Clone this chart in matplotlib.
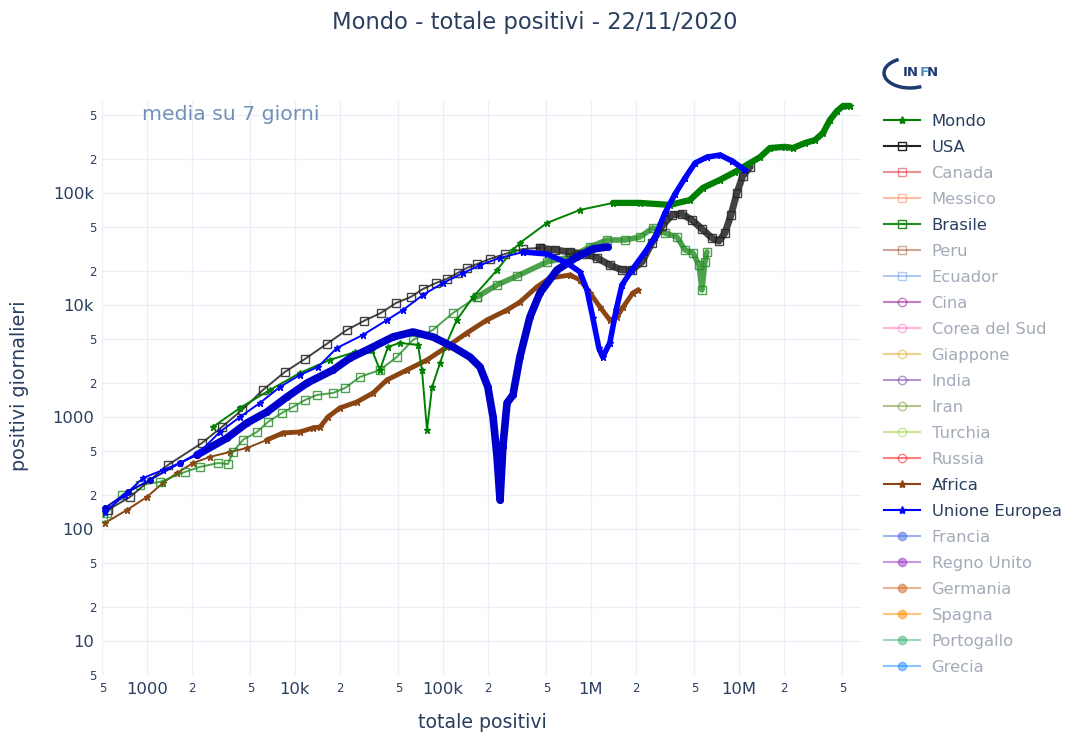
import matplotlib
matplotlib.use("Agg")
import matplotlib.pyplot as plt
from matplotlib.lines import Line2D
from matplotlib.patches import Arc

# ---- data: (totale positivi, positivi giornalieri 7-day mean) ----
mondo_x = [2790, 4250, 6770, 10800, 17200, 25400, 33100, 37500, 42500, 51100, 67800, 72100,
           78000, 84400, 95600, 106000, 124000, 160000, 232000, 297000, 331000, 504000, 843000,
           1.41e6, 2.14e6, 3.42e6, 4.67e6, 5.71e6, 7.45e6, 9.4e6, 11.3e6, 13.9e6, 16.2e6, 20.5e6,
           23.2e6, 27.9e6, 32.7e6, 37e6, 41.2e6, 46e6, 50.5e6, 56.2e6]
mondo_y = [815, 1203, 1742, 2470, 3230, 3800, 3960, 2630, 4220, 4580, 4400, 2630,
           765, 1850, 3030, 4580, 7340, 11800, 20500, 31000, 35800, 54000, 70500,
           81500, 81500, 78200, 86600, 111000, 131000, 154000, 178000, 209000, 252000, 258000,
           252000, 279000, 297000, 344000, 449000, 540000, 598000, 598000]

usa_x = [545, 768, 1387, 2355, 3213, 4385, 6080, 8550, 11700, 16400, 22400, 29200, 38100,
         48100, 60800, 73300, 89700, 106000, 126000, 145000, 170000, 208000, 262000, 348000,
         452000, 571000, 722000, 910000, 1.10e6, 1.34e6, 1.62e6, 1.89e6, 2.21e6, 2.58e6, 3.02e6,
         3.53e6, 4.12e6, 4.81e6, 5.62e6, 6.57e6, 7.33e6, 8.04e6, 8.83e6, 9.69e6, 10.6e6, 11.9e6]
usa_y = [148, 193, 373, 586, 815, 1155, 1742, 2523, 3300, 4490, 5980, 7200, 8490,
         10400, 11800, 13900, 15700, 17100, 19300, 21400, 23200, 25800, 28500, 31600,
         32300, 31000, 29700, 28500, 26300, 22700, 20500, 20500, 24200, 35800, 50700,
         63700, 64900, 57400, 47700, 39600, 37200, 43900, 63700, 100000, 142000, 171000]

brasile_x = [505, 537, 678, 897, 1224, 1806, 2279, 3020, 3530, 3810, 4450, 5540, 6570, 8170,
             9690, 11700, 14100, 18100, 21800, 27500, 37500, 48800, 62700, 85500, 117000,
             170000, 232000, 316000, 504000, 722000, 985000, 1.28e6, 1.70e6, 2.14e6, 2.62e6,
             3.16e6, 3.81e6, 4.32e6, 4.89e6, 5.37e6, 5.62e6, 5.89e6, 6.08e6]
brasile_y = [128, 139, 201, 247, 263, 323, 358, 388, 380, 487, 624, 735, 902, 1086,
             1228, 1418, 1572, 1638, 1815, 2276, 2630, 3432, 4870, 5980, 8490,
             11800, 15100, 18100, 24200, 26800, 33000, 38000, 38000, 40400, 48700,
             43900, 40400, 31000, 29100, 22700, 13600, 24200, 29700]

africa_x = [520, 733, 1000, 1283, 1595, 2047, 2665, 3640, 4740, 6470, 8300, 10800, 13200,
            14800, 16700, 20100, 26200, 33700, 41800, 57200, 78000, 106000, 145000, 198000,
            271000, 331000, 431000, 528000, 722000, 843000, 985000, 1.15e6, 1.34e6, 1.50e6,
            1.65e6, 1.92e6, 2.08e6]
africa_y = [113, 148, 193, 258, 316, 388, 440, 487, 528, 624, 720, 735, 798,
            815, 1000, 1203, 1361, 1638, 2140, 2630, 3230, 4220, 5620, 7340,
            9020, 10600, 14500, 17400, 18500, 16700, 12800, 9600, 7340, 7820,
            9600, 12800, 13600]

ue_x = [520, 710, 940, 1283, 1670, 2279, 3110, 4250, 5800, 7920, 10800, 14300, 19200, 28800,
        41800, 53700, 73300, 100000, 137000, 178000, 243000, 348000, 504000, 689000, 843000,
        940000, 1.03e6, 1.13e6, 1.20e6, 1.34e6, 1.48e6, 1.62e6, 1.89e6, 2.32e6, 2.71e6, 3.16e6,
        3.70e6, 4.32e6, 5.05e6, 6.08e6, 7.45e6, 8.98e6, 11.0e6]
ue_y = [142, 201, 285, 336, 388, 487, 735, 1000, 1334, 1855, 2371, 2794, 4130, 5400,
        7340, 9020, 12300, 15700, 19300, 22700, 26300, 29700, 28500, 23700, 19700,
        13600, 7650, 4130, 3430, 4580, 9020, 15100, 20500, 29700, 40400, 66200,
        97900, 136000, 185000, 209000, 218000, 193000, 160000]

italia_x = [520, 745, 1048, 1670, 2177, 3475, 4740, 6470, 8830, 12100, 18100, 23600, 30600,
            45900, 62700, 85500, 117000, 152000, 178000, 201000, 218000, 232000, 243000, 254000,
            271000, 297000, 331000, 387000, 452000, 589000, 804000, 1.03e6, 1.30e6]
italia_y = [154, 214, 274, 388, 458, 649, 884, 1108, 1509, 2013, 2630, 3365, 3960,
            5180, 5740, 5180, 4220, 3430, 2794, 1855, 1000, 440, 181, 540,
            1334, 1570, 3430, 7820, 12800, 20500, 26800, 31600, 33000]

# legend entries
legend_names = ["Mondo", "USA", "Canada", "Messico", "Brasile", "Peru", "Ecuador", "Cina",
                "Corea del Sud", "Giappone", "India", "Iran", "Turchia", "Russia", "Africa",
                "Unione Europea", "Francia", "Regno Unito", "Germania", "Spagna", "Portogallo",
                "Grecia"]
legend_colors = ["#008000", "#222222", "#d62728", "#ff7f50", "#228b22", "#a0522d", "#6495ed",
                 "#8b008b", "#ff69b4", "#daa520", "#663399", "#6b8e23", "#9acd32", "#ff0000",
                 "#8b4513", "#0000ff", "#4169e1", "#9932cc", "#d2691e", "#ff8c00", "#3cb371",
                 "#1e90ff"]
legend_markers = ["*", "s", "s", "s", "s", "s", "s", "o", "o", "o", "o", "o", "o", "o",
                  "*", "*", "o", "o", "o", "o", "o", "o"]
legend_open = [False] + [True] * 13 + [False, False] + [False] * 6
legend_active = ["Mondo", "USA", "Brasile", "Africa", "Unione Europea"]

title = "Mondo - totale positivi - 22/11/2020"
xticks_major = [1e3, 1e4, 1e5, 1e6, 1e7]
xticks_major_lab = ["1000", "10k", "100k", "1M", "10M"]
xticks_minor = [500, 2e3, 5e3, 2e4, 5e4, 2e5, 5e5, 2e6, 5e6, 2e7, 5e7]
xticks_minor_lab = ["5", "2", "5", "2", "5", "2", "5", "2", "5", "2", "5"]
yticks_major = [10, 100, 1e3, 1e4, 1e5]
yticks_major_lab = ["10", "100", "1000", "10k", "100k"]
yticks_minor = [5, 20, 50, 200, 500, 2e3, 5e3, 2e4, 5e4, 2e5, 5e5]
yticks_minor_lab = ["5", "2", "5", "2", "5", "2", "5", "2", "5", "2", "5"]

TXT = "#2a3f5f"
GRID = "#ebf0f8"

W, H = 1069, 736
fig = plt.figure(figsize=(W / 100, H / 100), dpi=100)
ax = fig.add_axes([102.4 / W, 1 - 674.7 / H, (862 - 102.4) / W, (674.7 - 101) / H])
ax.set_xscale("log")
ax.set_yscale("log")
ax.set_xlim(500, 6.78e7)
ax.set_ylim(5, 6.62e5)

for s in ax.spines.values():
    s.set_visible(False)

ax.set_xticks(xticks_major)
ax.set_xticklabels(xticks_major_lab)
ax.set_xticks(xticks_minor, minor=True)
ax.set_xticklabels(xticks_minor_lab, minor=True)
ax.set_yticks(yticks_major)
ax.set_yticklabels(yticks_major_lab)
ax.set_yticks(yticks_minor, minor=True)
ax.set_yticklabels(yticks_minor_lab, minor=True)
ax.tick_params(which="both", length=0, colors=TXT)
ax.tick_params(which="major", labelsize=11.8, pad=6)
ax.tick_params(which="minor", labelsize=8.5, pad=4)
ax.tick_params(axis="x", which="major", pad=5)
ax.tick_params(axis="x", which="minor", pad=5)
ax.grid(which="both", color=GRID, lw=1)
ax.set_axisbelow(True)


def draw(x, y, color, marker, dense_from, open_marker=False, ms=5, band=5, alpha=1.0, z=2):
    mfc = "none" if open_marker else color
    ax.plot(x[:dense_from + 1], y[:dense_from + 1], color=color, lw=1.4, marker=marker,
            ms=ms, mfc=mfc, mec=color, alpha=alpha, zorder=z)
    ax.plot(x[dense_from:], y[dense_from:], color=color, lw=band, alpha=alpha, zorder=z,
            solid_capstyle="round", solid_joinstyle="round")
    ax.plot(x[dense_from:], y[dense_from:], ls="none", marker=marker, ms=ms, mfc=mfc,
            mec=color, alpha=alpha, zorder=z)


draw(africa_x, africa_y, "#8b4513", "*", 9, band=3.5, ms=5)
draw(brasile_x, brasile_y, "#228b22", "s", 25, open_marker=True, band=4, ms=6, alpha=0.8)
draw(usa_x, usa_y, "#222222", "s", 24, open_marker=True, band=5, ms=6, alpha=0.85)
draw(mondo_x, mondo_y, "#008000", "*", 23, band=4.5, ms=5)
draw(italia_x, italia_y, "#0000cd", "o", 4, band=5.5, ms=4)
draw(ue_x, ue_y, "#0000ff", "*", 21, band=4, ms=5)

fig.text(142 / W, 1 - 114 / H, "media su 7 giorni", fontsize=14.7, color="#7391b8",
         va="center", ha="left")

fig.text(0.5, 1 - 22 / H, title, ha="center", va="center", fontsize=16.3, color=TXT)
fig.text(482 / W, 1 - 722 / H, "totale positivi", ha="center", va="center", fontsize=13.6,
         color=TXT)
fig.text(20 / W, 1 - 386 / H, "positivi giornalieri", ha="center", va="center",
         fontsize=13.8, color=TXT, rotation=90)

# legend
handles = []
for name, c, m, op in zip(legend_names, legend_colors, legend_markers, legend_open):
    a = 1.0 if name in legend_active else 0.5
    handles.append(Line2D([], [], color=c, marker=m, ms=6, lw=1.5, alpha=a,
                          mfc="none" if op else c, mec=c))
leg = fig.legend(handles, legend_names, loc="upper left", frameon=False,
                 bbox_to_anchor=(884 / W, 1 - 114 / H), borderpad=0, borderaxespad=0,
                 fontsize=11.8, handlelength=2.2, handletextpad=0.7, labelspacing=0.67)
for t, name in zip(leg.get_texts(), legend_names):
    t.set_color(TXT if name in legend_active else "#a3abb9")

# INFN logo
fig.patches.append(Arc((910 / W, 1 - 73 / H), 52 / W, 30 / H, theta1=120, theta2=300,
                       transform=fig.transFigure, color="#1f3a6e", lw=2.5))
fig.text(903 / W, 1 - 72 / H, "IN", fontsize=9.5, color="#1f3a6e", va="center",
         fontweight="bold")
fig.text(920 / W, 1 - 72 / H, "F", fontsize=9.5, color="#4a90d0", va="center",
         fontweight="bold")
fig.text(927 / W, 1 - 72 / H, "N", fontsize=9.5, color="#1f3a6e", va="center",
         fontweight="bold")

fig.savefig("out.png", dpi=100)
